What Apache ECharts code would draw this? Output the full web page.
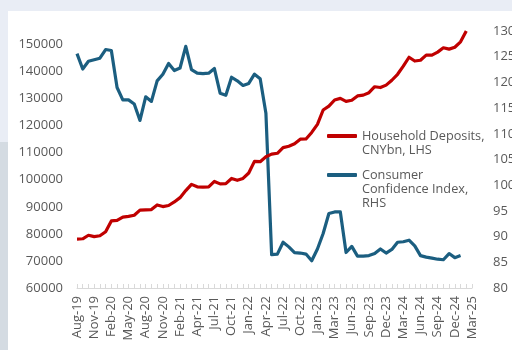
<!DOCTYPE html>
<html>
<head>
<meta charset="utf-8">
<script src="https://cdn.jsdelivr.net/npm/echarts@6/dist/echarts.min.js"></script>
<style>
  html, body { margin: 0; padding: 0; background: #ffffff; }
  #chart { width: 512px; height: 350px; }
</style>
</head>
<body>
<div id="chart"></div>
<script>
// Month categories (one per observation); every third one is labelled
const months = [
  'Aug-19','Sep-19','Oct-19','Nov-19','Dec-19','Jan-20','Feb-20','Mar-20','Apr-20','May-20',
  'Jun-20','Jul-20','Aug-20','Sep-20','Oct-20','Nov-20','Dec-20','Jan-21','Feb-21','Mar-21',
  'Mar-21','Apr-21','May-21','Jun-21','Jul-21','Aug-21','Sep-21','Oct-21','Nov-21','Dec-21',
  'Jan-22','Feb-22','Mar-22','Apr-22','May-22','Jun-22','Jul-22','Aug-22','Sep-22','Oct-22',
  'Nov-22','Dec-22','Jan-23','Feb-23','Feb-23','Mar-23','Apr-23','May-23','Jun-23','Jul-23',
  'Aug-23','Sep-23','Oct-23','Nov-23','Dec-23','Jan-24','Feb-24','Mar-24','Apr-24','May-24',
  'Jun-24','Jul-24','Aug-24','Sep-24','Oct-24','Nov-24','Dec-24','Jan-25','Feb-25','Mar-25'
];

// Household deposits, CNY bn (left axis)
const householdDeposits = [
  78100, 78200, 79500, 79000, 79300, 80800, 84800, 85000, 86200, 86500,
  86900, 88800, 88900, 89000, 90700, 90100, 90500, 91800, 93400, 96000,
  98300, 97400, 97300, 97400, 99400, 98500, 98600, 100500, 99800, 100500,
  102500, 106800, 106700, 108500, 109500, 109800, 111900, 112400, 113300, 115000,
  115100, 117500, 120500, 125800, 127200, 129500, 130100, 129000, 129400, 131000,
  131300, 132200, 134400, 134100, 135000, 136800, 139000, 142000, 145300, 143900,
  144200, 146100, 146100, 147200, 148800, 148300, 149000, 151000, 155000
];

// Consumer confidence index (right axis)
const consumerConfidence = [
  125.6, 122.6, 124.1, 124.4, 124.7, 126.4, 126.2, 119.0, 116.6, 116.6,
  115.8, 112.6, 117.2, 116.3, 120.3, 121.6, 123.7, 122.3, 122.8, 127.0,
  122.5, 121.8, 121.7, 121.8, 122.7, 117.9, 117.5, 121.0, 120.3, 119.4,
  119.8, 121.6, 120.7, 114.0, 86.5, 86.6, 88.9, 88.0, 86.9, 86.8,
  86.6, 85.3, 87.6, 90.6, 94.5, 94.8, 94.8, 86.9, 88.1, 86.2,
  86.2, 86.3, 86.7, 87.6, 86.8, 87.5, 88.9, 89.0, 89.3, 88.2,
  86.3, 86.0, 85.8, 85.6, 85.5, 86.7, 85.9, 86.3
];

const depositName = 'Household Deposits,\nCNYbn, LHS';
const confidenceName = 'Consumer\nConfidence Index,\nRHS';

const textColor = '#595959';
const fontFamily = 'Open Sans';

// Legend text is centred on its marker; leading blank lines put the
// marker level with the first line of each label.
function legendLabel(name) {
  const extra = name.split('\n').length - 1;
  return '\n'.repeat(extra) + name;
}

const chart = echarts.init(document.getElementById('chart'), null, { renderer: 'canvas' });

chart.setOption({
  backgroundColor: '#ffffff',
  animation: false,
  textStyle: { fontFamily: fontFamily, color: textColor },
  graphic: [
    { type: 'rect', shape: { x: 0, y: 0, width: 512, height: 11 }, style: { fill: '#e9edf5' }, z: -10, silent: true },
    { type: 'rect', shape: { x: 0, y: 0, width: 8, height: 142 }, style: { fill: '#e9edf5' }, z: -10, silent: true },
    { type: 'rect', shape: { x: 0, y: 142, width: 8, height: 208 }, style: { fill: '#d4dbe2' }, z: -10, silent: true }
  ],
  grid: { left: 77, right: 40, top: 31, bottom: 62, containLabel: false, outerBoundsMode: 'none' },
  legend: [
    {
      data: [depositName],
      formatter: legendLabel,
      orient: 'vertical',
      left: 322, top: 110,
      icon: 'roundRect',
      itemWidth: 30, itemHeight: 4, itemGap: 10,
      textStyle: { fontFamily: fontFamily, fontSize: 12.7, color: textColor, lineHeight: 14 }
    },
    {
      data: [confidenceName],
      formatter: legendLabel,
      orient: 'vertical',
      left: 322, top: 135,
      icon: 'roundRect',
      itemWidth: 30, itemHeight: 4, itemGap: 10,
      textStyle: { fontFamily: fontFamily, fontSize: 12.7, color: textColor, lineHeight: 14 }
    }
  ],
  xAxis: {
    type: 'category',
    data: months,
    boundaryGap: false,
    axisLine: { show: true, lineStyle: { color: '#d9d9d9', width: 1 } },
    axisTick: { show: true, inside: true, length: 4, interval: 0, lineStyle: { color: '#d9d9d9' } },
    axisLabel: { interval: 2, rotate: 90, margin: 8, fontSize: 13, color: textColor, fontFamily: fontFamily },
    splitLine: { show: false }
  },
  yAxis: [
    {
      type: 'value',
      min: 60000, max: 155000, interval: 10000,
      axisLine: { show: false }, axisTick: { show: false }, splitLine: { show: false },
      axisLabel: {
        showMaxLabel: false, margin: 14, fontSize: 13, color: textColor, fontFamily: fontFamily,
        formatter: function (v) { return String(v); }
      }
    },
    {
      type: 'value',
      min: 80, max: 130, interval: 5,
      axisLine: { show: false }, axisTick: { show: false }, splitLine: { show: false },
      axisLabel: { margin: 21, fontSize: 13, color: textColor, fontFamily: fontFamily }
    }
  ],
  series: [
    {
      name: depositName,
      type: 'line',
      yAxisIndex: 0,
      data: householdDeposits,
      symbol: 'none',
      lineStyle: { color: '#c00000', width: 3.2, join: 'round' },
      itemStyle: { color: '#c00000' },
      z: 3
    },
    {
      name: confidenceName,
      type: 'line',
      yAxisIndex: 1,
      data: consumerConfidence,
      symbol: 'none',
      lineStyle: { color: '#1b5e80', width: 3.2, join: 'round' },
      itemStyle: { color: '#1b5e80' },
      z: 2
    }
  ]
});
</script>
</body>
</html>
